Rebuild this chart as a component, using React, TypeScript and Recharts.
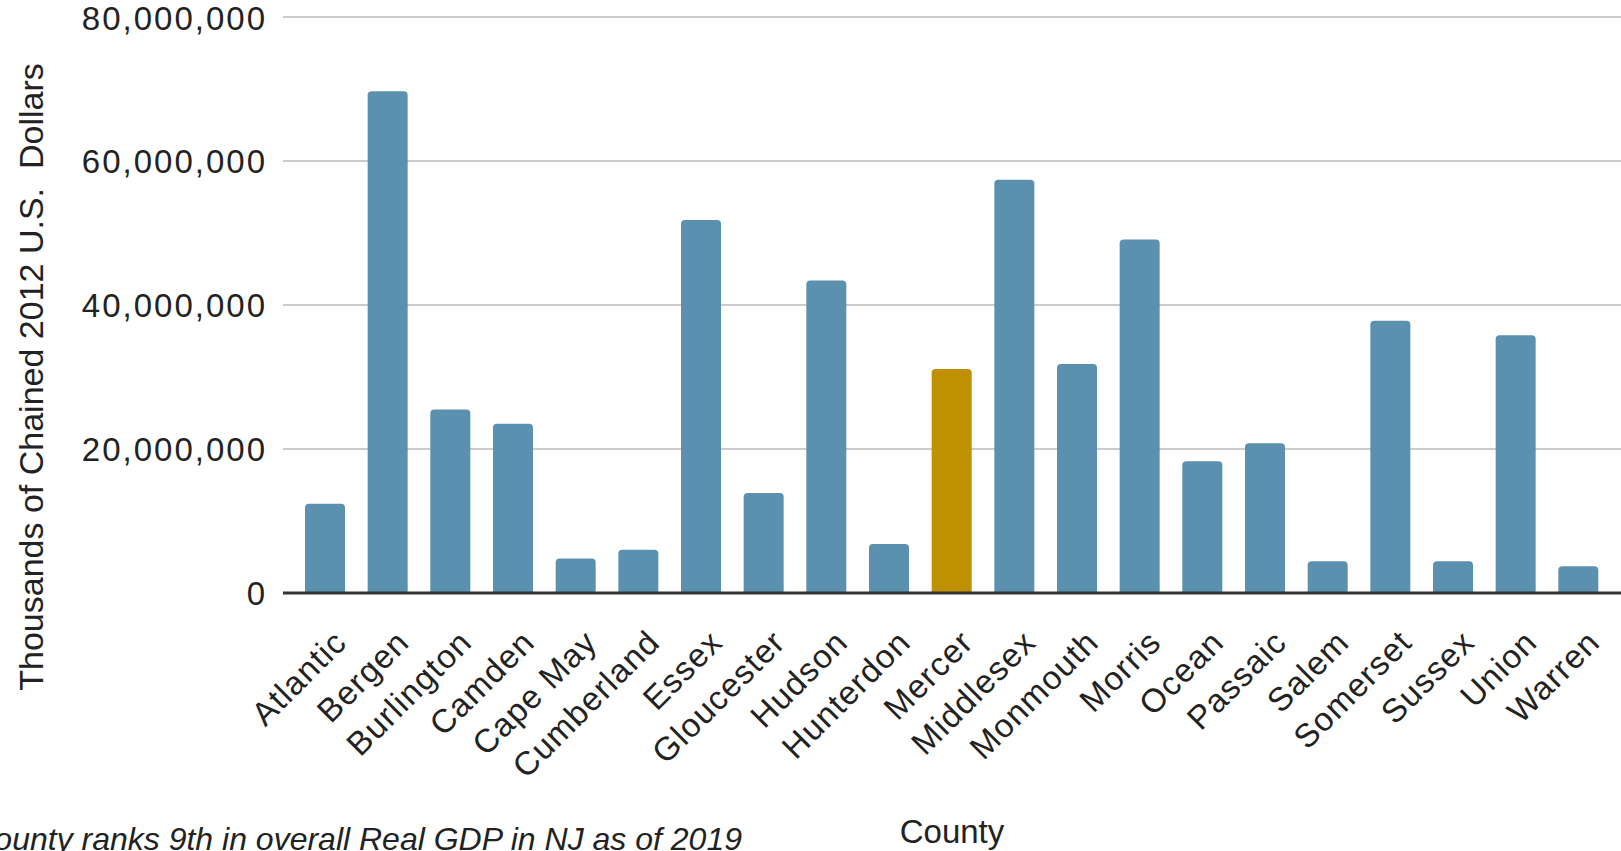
import { BarChart, Bar, XAxis, YAxis, CartesianGrid, Cell } from 'recharts'

const counties = [
  'Atlantic', 'Bergen', 'Burlington', 'Camden', 'Cape May', 'Cumberland', 'Essex',
  'Gloucester', 'Hudson', 'Hunterdon', 'Mercer', 'Middlesex', 'Monmouth', 'Morris',
  'Ocean', 'Passaic', 'Salem', 'Somerset', 'Sussex', 'Union', 'Warren',
]

// thousands of chained 2012 dollars
const gdp = [
  12400000, 69700000, 25500000, 23500000, 4800000, 6000000, 51800000,
  13900000, 43400000, 6800000, 31100000, 57400000, 31800000, 49100000,
  18300000, 20800000, 4400000, 37800000, 4400000, 35800000, 3700000,
]

const yTicks = [0, 20000000, 40000000, 60000000, 80000000]
const highlight = 'Mercer'

const data = counties.map((name, i) => ({ name, gdp: gdp[i] }))

const FONT = '"Liberation Sans", Arial, sans-serif'
const INK = '#222'

const SlantTick = (props: any) => {
  const { x, y, payload } = props
  const ax = x + 15
  const ay = y + 43
  return (
    <text
      x={ax}
      y={ay}
      transform={`rotate(-45, ${ax}, ${ay})`}
      textAnchor="end"
      dominantBaseline="central"
      fontFamily={FONT}
      fontSize={33}
      letterSpacing={1.2}
      fill={INK}
    >
      {payload.value}
    </text>
  )
}

const YTitle = () => (
  <text
    x={43}
    y={377}
    transform="rotate(-90, 43, 377)"
    textAnchor="middle"
    fontFamily={FONT}
    fontSize={34}
    fill={INK}
    style={{ whiteSpace: 'pre' }}
  >
    {'Thousands of Chained 2012 U.S.  Dollars'}
  </text>
)

const XTitle = () => (
  <g>
    <text x={952} y={843} textAnchor="middle" fontFamily={FONT} fontSize={33} fill={INK}>
      County
    </text>
    <text x={742} y={850} textAnchor="end" fontFamily={FONT} fontStyle="italic" fontSize={32} fill={INK}>
      Mercer County ranks 9th in overall Real GDP in NJ as of 2019
    </text>
  </g>
)

export default function App() {
  return (
    <div style={{ position: 'absolute', left: 0, top: 0, background: '#fff' }}>
      <BarChart width={1621} height={851} data={data} margin={{ top: 17, right: 0, bottom: 0, left: 0 }}>
        <CartesianGrid vertical={false} stroke="#cccccc" strokeWidth={2} />
        <XAxis
          dataKey="name"
          interval={0}
          height={258}
          padding={{ left: 11, right: 11 }}
          axisLine={{ stroke: '#333', strokeWidth: 3 }}
          tickLine={false}
          tickSize={0}
          tickMargin={0}
          tick={<SlantTick />}
          label={<XTitle />}
        />
        <YAxis
          width={283}
          domain={[0, 80000000]}
          ticks={yTicks}
          axisLine={false}
          tickLine={false}
          tickSize={6}
          tickMargin={10}
          tickFormatter={(v: number) => v.toLocaleString('en-US')}
          tick={{ fontFamily: FONT, fontSize: 33, fill: INK, letterSpacing: 2 }}
          label={<YTitle />}
        />
        <Bar dataKey="gdp" barSize={40} radius={[4, 4, 0, 0]} isAnimationActive={false}>
          {data.map(d => (
            <Cell key={d.name} fill={d.name === highlight ? '#bf9000' : '#5b91ae'} />
          ))}
        </Bar>
      </BarChart>
    </div>
  )
}
